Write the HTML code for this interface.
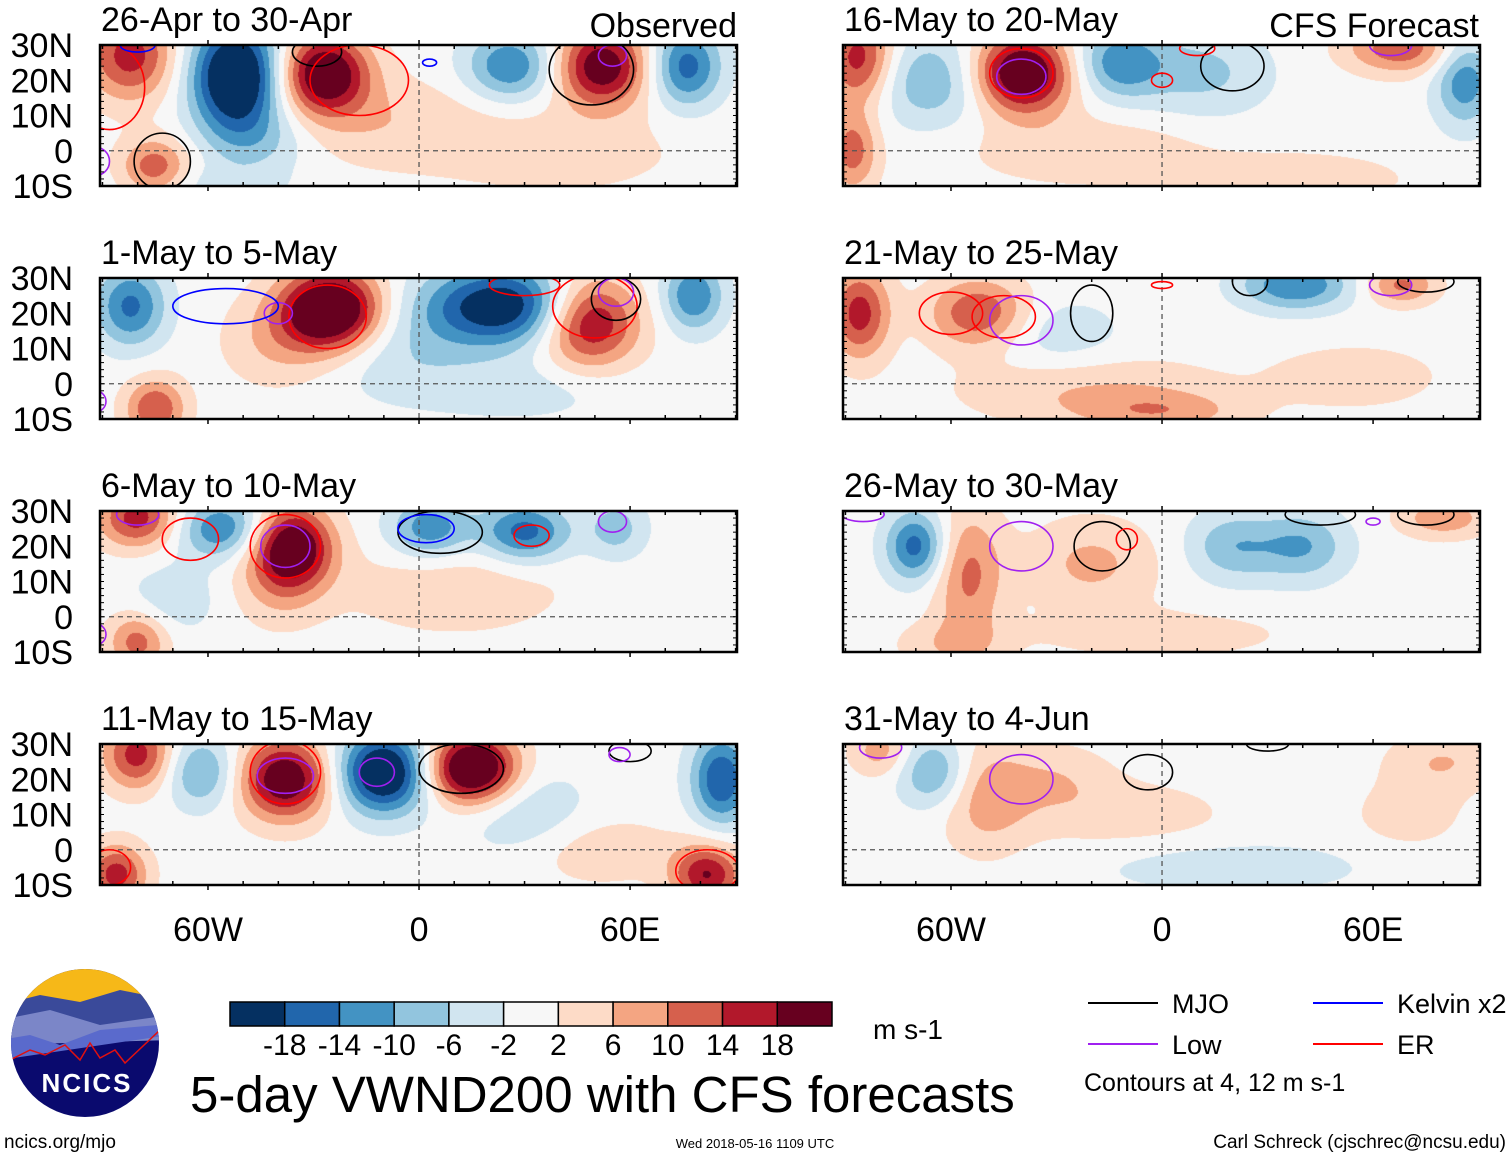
<!DOCTYPE html>
<html><head><meta charset="utf-8">
<style>
body{margin:0;background:#fff;width:1510px;height:1158px;overflow:hidden;position:relative;font-family:"Liberation Sans",sans-serif;}
canvas{position:absolute;}
svg{position:absolute;left:0;top:0;}
</style></head>
<body>
<div id="maps"></div>
<svg id="ov" width="1510" height="1158"></svg>
<script>
// ---- data ----
const panelTitles = ["26-Apr to 30-Apr","16-May to 20-May","1-May to 5-May","21-May to 25-May","6-May to 10-May","26-May to 30-May","11-May to 15-May","31-May to 4-Jun"];
const latTicks = [30,20,10,0,-10];
const latLabels = ["30N","20N","10N","0","10S"];
const lonTicks = [-60,0,60];
const lonLabels = ["60W","0","60E"];
const levels = [-18,-14,-10,-6,-2,2,6,10,14,18];
const levelColors = ["#053061","#2166ac","#4393c3","#92c5de","#d1e5f0","#f7f7f7","#fddbc7","#f4a582","#d6604d","#b2182b","#67001f"];
// anomaly blobs per panel: [lon, lat, amp, sigmaLon, sigmaLat]
const blobs0 = [[-82,27,16,9,9],[-52,21,-28,9,11],[-27,22,24,9,8],[-75,-5,13,7,6],[26,24,-14,9,7],[52,24,22,9,8],[76,24,-16,7,8],[-45,3,-6,11,7],[-10,8,5,22,9],[40,0,4,25,9],[-60,-10,-4,15,4]];
const blobs1 = [[-86,26,17,7,9],[-65,20,-10,13,9],[-40,22,26,10,8],[-12,25,-13,9,7],[12,22,-7,13,9],[68,29,13,11,5],[86,20,-13,6,9],[-88,0,12,5,8],[-20,0,5,25,7],[40,-8,5,20,5]];
const blobs2 = [[-82,22,-15,7,8],[-25,21,28,10,8],[-40,12,6,11,9],[24,22,-23,16,8],[48,18,22,10,9],[78,25,-14,6,7],[-75,-7,14,6,6],[-5,8,-5,16,9],[30,-2,-4,20,6]];
const blobs3 = [[-86,20,16,6,9],[-52,20,14,10,7],[-30,14,-5,13,7],[38,28,-14,11,5],[68,28,11,7,4],[-20,-2,6,26,7],[55,2,5,16,6],[0,-8,7,16,4]];
const blobs4 = [[-80,28,16,8,6],[-56,25,-14,9,6],[-36,20,23,8,8],[-40,10,6,9,9],[3,25,-13,8,6],[30,24,-16,9,6],[56,25,-8,6,6],[-80,-7,12,6,6],[10,8,5,22,9],[-70,5,-5,9,7]];
const blobs5 = [[-70,20,-16,6,7],[-55,12,11,7,13],[-20,15,7,13,9],[20,20,-9,9,7],[40,20,-10,9,7],[80,28,9,9,4],[0,-5,4,26,5],[-60,-8,5,11,5]];
const blobs6 = [[-80,27,16,7,7],[-62,22,-11,7,7],[-38,20,23,9,8],[-10,22,-26,9,8],[15,23,28,9,7],[86,20,-18,6,9],[-86,-7,16,6,6],[82,-7,18,7,6],[30,10,-6,13,9],[50,0,5,16,7]];
const blobs7 = [[-65,22,-11,7,7],[-50,15,8,9,11],[-30,20,5,11,7],[-80,28,8,6,5],[20,-5,-5,26,5],[80,25,6,11,6],[-10,10,4,21,7],[70,10,4,11,7]];
const panelBlobs = [blobs0,blobs1,blobs2,blobs3,blobs4,blobs5,blobs6,blobs7];
// contours per panel: [lon, lat, radiusLon, radiusLat, type]
const contours0 = [[-29,28,7,4,"MJO"],[-17,20,14,10,"ER"],[-73,-3,8,8,"MJO"],[49,23,12,10,"MJO"],[55,27,4,3,"Low"],[-92,-3,4,4,"Low"],[-88,18,10,12,"ER"],[-80,30,5,2,"Kelvin"],[3,25,2,1,"Kelvin"]];
const contours1 = [[-40,22,9,7,"ER"],[-40,21,7,5,"Low"],[20,24,9,7,"MJO"],[0,20,3,2,"ER"],[10,29,5,2,"ER"],[65,30,6,3,"Low"]];
const contours2 = [[-26,19,11,9,"ER"],[-40,20,4,3,"Low"],[-55,22,15,5,"Kelvin"],[50,22,12,9,"ER"],[56,24,7,6,"MJO"],[56,26,5,4,"Low"],[-92,-5,3,3,"Low"],[30,28,10,3,"ER"]];
const contours3 = [[-60,20,9,6,"ER"],[-45,19,9,6,"ER"],[-40,18,9,7,"Low"],[-20,20,6,8,"MJO"],[0,28,3,1,"ER"],[25,29,5,4,"MJO"],[75,29,8,3,"MJO"],[65,28,6,3,"Low"]];
const contours4 = [[-38,20,7,6,"Low"],[-38,20,10,9,"ER"],[-65,22,8,6,"ER"],[6,24,12,6,"MJO"],[2,25,8,4,"Kelvin"],[32,23,5,3,"ER"],[-80,29,6,3,"Low"],[55,27,4,3,"Low"],[-92,-5,3,3,"Low"]];
const contours5 = [[-40,20,9,7,"Low"],[-17,20,8,7,"MJO"],[-10,22,3,3,"ER"],[45,29,10,3,"MJO"],[75,29,8,3,"MJO"],[60,27,2,1,"Low"],[-85,29,6,2,"Low"]];
const contours6 = [[-38,21,8,5,"Low"],[-38,22,10,9,"ER"],[12,23,12,7,"MJO"],[-12,22,5,4,"Low"],[60,28,6,3,"MJO"],[57,27,3,2,"Low"],[82,-6,9,6,"ER"],[-88,-5,6,5,"ER"]];
const contours7 = [[-40,20,9,7,"Low"],[-4,22,7,5,"MJO"],[-80,29,6,3,"Low"],[30,30,6,2,"MJO"]];
const panelContours = [contours0,contours1,contours2,contours3,contours4,contours5,contours6,contours7];
const contourColors = {MJO:"#000000",Low:"#a020f0",ER:"#ff0000",Kelvin:"#0000ff"};
const legendEntries = ["MJO","Kelvin x2","Low","ER"];
const legendTypes = ["MJO","Kelvin","Low","ER"];

// ---- geometry ----
const PX0=[100,843], PW=637, PH=141, PY0=[45,278,511,744];
const lonMin=-90.7, lonMax=90.4, latMin=-10, latMax=30;
function xs(p,lon){return PX0[p%2]+(lon-lonMin)/(lonMax-lonMin)*PW;}
function ys(p,lat){return PY0[Math.floor(p/2)]+(latMax-lat)/(latMax-latMin)*PH;}
function hex(c){return [parseInt(c.slice(1,3),16),parseInt(c.slice(3,5),16),parseInt(c.slice(5,7),16)];}
const rgb=levelColors.map(hex);
const NS="http://www.w3.org/2000/svg";
const ov=document.getElementById('ov');
function mk(tag,attrs,parent){const e=document.createElementNS(NS,tag);for(const k in attrs)e.setAttribute(k,attrs[k]);(parent||ov).appendChild(e);return e;}
function txt(s,x,y,size,anchor,parent){const t=mk('text',{x:x,y:y,'font-size':size,'text-anchor':anchor||'start','font-family':'Liberation Sans, sans-serif',fill:'#000'},parent);t.textContent=s;return t;}
const defs=mk('defs',{});

const maps=document.getElementById('maps');
for(let p=0;p<8;p++){
  const c=document.createElement('canvas');
  c.width=PW;c.height=PH;
  c.style.left=PX0[p%2]+'px';c.style.top=PY0[Math.floor(p/2)]+'px';
  
  
  maps.appendChild(c);
  const ctx=c.getContext('2d');const img=ctx.createImageData(PW,PH);
  const bl=panelBlobs[p];
  for(let j=0;j<PH;j++){const lat=latMax-(j+0.5)/PH*(latMax-latMin);
    for(let i=0;i<PW;i++){const lon=lonMin+(i+0.5)/PW*(lonMax-lonMin);
      let v=0;for(const b of bl){const dx=(lon-b[0])/b[3],dy=(lat-b[1])/b[4];v+=b[2]*Math.exp(-0.5*(dx*dx+dy*dy));}
      let k=0;while(k<levels.length&&v>=levels[k])k++;
      const col=rgb[k];const o=(j*PW+i)*4;img.data[o]=col[0];img.data[o+1]=col[1];img.data[o+2]=col[2];img.data[o+3]=255;}}
  ctx.putImageData(img,0,0);

  const x0=PX0[p%2],y0=PY0[Math.floor(p/2)];
  const cp=mk('clipPath',{id:'cp'+p},defs);
  mk('rect',{x:x0,y:y0,width:PW,height:PH},cp);
  const g=mk('g',{});
  
  
  mk('line',{x1:x0,x2:x0+PW,y1:ys(p,0),y2:ys(p,0),stroke:'#555','stroke-dasharray':'5,4','stroke-width':1.3},g);
  mk('line',{x1:xs(p,0),x2:xs(p,0),y1:y0,y2:y0+PH,stroke:'#555','stroke-dasharray':'5,4','stroke-width':1.3},g);
  const cg=mk('g',{'clip-path':'url(#cp'+p+')'},g);
  for(const ct of panelContours[p]){
    const e=mk('ellipse',{cx:xs(p,ct[0]),cy:ys(p,ct[1]),rx:ct[2]*PW/(lonMax-lonMin),ry:ct[3]*PH/(latMax-latMin),fill:'none',stroke:contourColors[ct[4]],'stroke-width':1.6},cg);
    
    
  }
  const fr=mk('rect',{x:x0,y:y0,width:PW,height:PH,fill:'none',stroke:'#000','stroke-width':2.5},g);
  
  
  for(let lon=-90;lon<=90;lon+=10){const x=xs(p,lon);
    mk('line',{x1:x,x2:x,y1:y0,y2:y0+(lon%60===0?-5:4),stroke:'#000','stroke-width':1.5},g);
    mk('line',{x1:x,x2:x,y1:y0+PH,y2:y0+PH+(lon%60===0?5:-4),stroke:'#000','stroke-width':1.5},g);}
  for(let lat=-10;lat<=30;lat+=2){const y=ys(p,lat);
    mk('line',{x1:x0,x2:x0+4,y1:y,y2:y,stroke:'#000','stroke-width':1},g);
    mk('line',{x1:x0+PW,x2:x0+PW-4,y1:y,y2:y,stroke:'#000','stroke-width':1},g);}
  const t=txt(panelTitles[p],x0+1,y0-14,34,'start',g);
  
  
  if(p%2===0){for(let k=0;k<latTicks.length;k++){const l=txt(latLabels[k],73,ys(p,latTicks[k])+12,34,'end',g);
    
    }}
}
txt("Observed",737,37,34,'end');
txt("CFS Forecast",1479,37,34,'end');
for(let s=0;s<2;s++)for(let k=0;k<lonTicks.length;k++){
  const l=txt(lonLabels[k],xs(s,lonTicks[k]),941,34,'middle');
  
  }
const cb=mk('g',{});


const cbx=230,cbw=602/levelColors.length;
for(let i=0;i<levelColors.length;i++){
  const r=mk('rect',{x:cbx+i*cbw,y:1002,width:cbw,height:24,fill:levelColors[i],stroke:'#000','stroke-width':1.5},cb);
  
  }
for(let i=0;i<levels.length;i++)txt(String(levels[i]),cbx+(i+1)*cbw,1055,30,'middle',cb);
txt("m s-1",873,1039,28,'start',cb);
txt("5-day VWND200 with CFS forecasts",190,1112,51,'start');
const lg=mk('g',{});


const lgPos=[[1088,1003],[1313,1003],[1088,1044],[1313,1044]];
for(let i=0;i<4;i++){const [x,y]=lgPos[i];
  const e=mk('line',{x1:x,x2:x+70,y1:y,y2:y,stroke:contourColors[legendTypes[i]],'stroke-width':2},lg);
  
  
  txt(legendEntries[i],x+84,y+10,27,'start',lg);}
txt("Contours at 4, 12 m s-1",1084,1091,25,'start',lg);
const lo=mk('g',{});


const lcp=mk('clipPath',{id:'lc'},defs);
mk('circle',{cx:85,cy:1043,r:74},lcp);
const lcg=mk('g',{'clip-path':'url(#lc)'},lo);
mk('rect',{x:0,y:960,width:170,height:170,fill:'#0a0a6e'},lcg);
mk('rect',{x:0,y:960,width:170,height:45,fill:'#f6b818'},lcg);
mk('path',{d:'M0 1005 L40 995 L80 1002 L120 990 L170 1000 L170 1030 L0 1040Z',fill:'#3a4a9a'},lcg);
mk('path',{d:'M0 1020 L50 1010 L100 1025 L170 1015 L170 1040 L0 1045Z',fill:'#7b86c8'},lcg);
mk('path',{d:'M0 1040 L30 1035 L60 1045 L100 1030 L158 1025 L170 1020 L170 1035 L0 1060Z',fill:'#5a6acc'},lcg);
mk('path',{d:'M10 1060 L30 1050 L45 1055 L65 1045 L80 1060 L90 1043 L100 1058 L115 1050 L125 1063 L160 1030',fill:'none',stroke:'#e01010','stroke-width':1.5},lcg);
const lt=mk('text',{x:87,y:1092,'font-size':26,'font-weight':'bold','text-anchor':'middle',fill:'#fff','font-family':'Liberation Sans, sans-serif','letter-spacing':'2'},lo);lt.textContent="NCICS";
txt("ncics.org/mjo",4,1148,19,'start');
txt("Wed 2018-05-16 1109 UTC",755,1148,13,'middle');
txt("Carl Schreck (cjschrec@ncsu.edu)",1506,1148,19,'end');
</script>
</body></html>
